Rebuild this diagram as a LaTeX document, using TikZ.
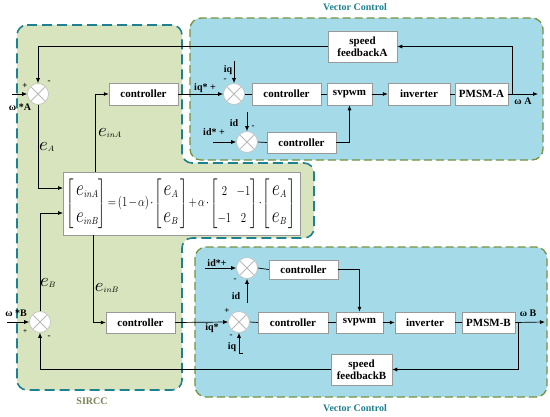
\documentclass[tikz,border=0pt]{standalone}
\usepackage{fontspec}
\setmainfont{Liberation Serif}
\usepackage{amsmath}
\usetikzlibrary{arrows.meta,calc}
\definecolor{gfill}{RGB}{215,228,189}
\definecolor{bfill}{RGB}{165,219,233}
\definecolor{tealdash}{RGB}{30,128,145}
\definecolor{olivedash}{RGB}{118,146,60}
\definecolor{sirccol}{RGB}{120,130,85}
\newcommand{\bige}[1]{\scalebox{1.7}{$e$}_{#1}}
\newcommand{\eqe}[1]{\scalebox{1.6}{$e$}_{#1}}
\begin{document}
\begin{tikzpicture}[x=1pt,y=-1pt,line width=0.7pt,
  >={Latex[length=5pt,width=4pt]},
  blk/.style={draw=gray!80,fill=white,line width=0.5pt,font=\bfseries\fontsize{11}{12}\selectfont,minimum height=22pt,inner sep=1pt,align=center},
  sumj/.style={circle,draw=gray!50,fill=white,line width=0.6pt,minimum size=21pt,inner sep=0pt,
    path picture={\draw[gray!55,line width=0.8pt] (path picture bounding box.north west)--(path picture bounding box.south east)
      (path picture bounding box.north east)--(path picture bounding box.south west);}},
  lbl/.style={font=\bfseries\fontsize{10}{11}\selectfont,inner sep=0pt},
  pmk/.style={font=\bfseries\fontsize{9}{10}\selectfont,inner sep=0pt},
  elbl/.style={font=\fontsize{11}{13}\selectfont,inner sep=0pt},
  vcreg/.style={fill=bfill,draw=olivedash,dash pattern=on 8pt off 4pt,line width=1.3pt,rounded corners=11pt},
  vctitle/.style={font=\bfseries\fontsize{10}{11}\selectfont,text=tealdash,inner sep=0pt}]
\useasboundingbox (0,0) rectangle (550,416);
% regions
\fill[gfill,rounded corners=10pt] (17,25) -- (182,25) -- (182,163) -- (314,163) -- (314,238) -- (182,238) -- (182,390) -- (17,390) -- cycle;
\draw[tealdash,dash pattern=on 10pt off 5pt,line width=1.6pt,rounded corners=10pt] (17,25) -- (182,25) -- (182,163) -- (314,163) -- (314,238) -- (182,238) -- (182,390) -- (17,390) -- cycle;
\draw[vcreg] (190,18) rectangle (543,160);
\draw[vcreg] (195,247) rectangle (547,397);
\node[vctitle] (vtA) at (355,7) {Vector Control};
\node[vctitle] (vtB) at (355,408) {Vector Control};
\node[font=\bfseries\fontsize{10}{11}\selectfont,text=sirccol,inner sep=0pt] (sirc) at (92,401) {SIRCC};

% ---------- A side nodes
\node[sumj] (sumA) at (38,94) {};
\node[blk,minimum width=69pt] (ctrlSA) at (143.5,94) {controller};
\node[sumj] (sumAq) at (234,94) {};
\node[blk,minimum width=69pt] (ctrlA) at (286.5,94) {controller};
\node[blk,minimum width=45pt] (svA) at (349.5,94) {svpwm};
\node[blk,minimum width=62pt] (invA) at (419,94) {inverter};
\node[blk,minimum width=53pt] (pmA) at (481.5,94) {PMSM-A};
\node[blk,minimum width=69pt,minimum height=31pt] (fbA) at (362.5,46.5) {speed\\feedbackA};
\node[sumj] (sumAd) at (247,142) {};
\node[blk,minimum width=69pt,minimum height=21pt] (ctrlA2) at (301.5,142.5) {controller};

% ---------- equation
\node[draw=gray!80,fill=white,line width=0.5pt,minimum width=237pt,minimum height=63pt,inner sep=0pt,font=\fontsize{13}{16}\selectfont] (eq) at (181.5,203.5)
 {\renewcommand{\arraystretch}{1.45}\setlength{\arraycolsep}{2pt}\resizebox*{229pt}{53pt}{$\medmuskip=2mu\thickmuskip=3mu\begin{bmatrix}\,\eqe{inA}\\ \,\eqe{inB}\end{bmatrix}=(1-\alpha)\cdot\begin{bmatrix}\,\eqe{A}\,\\ \,\eqe{B}\,\end{bmatrix}+\alpha\cdot\begin{bmatrix}2 & \;-1\\ -1 & \;2\end{bmatrix}\cdot\begin{bmatrix}\,\eqe{A}\,\\ \,\eqe{B}\,\end{bmatrix}$}};

% ---------- B side nodes
\node[sumj] (sumB) at (40,322) {};
\node[blk,minimum width=69pt,minimum height=21pt] (ctrlSB) at (140.5,322.5) {controller};
\node[sumj] (sumBq) at (239,322) {};
\node[blk,minimum width=70pt,minimum height=21pt] (ctrlB) at (293,322.5) {controller};
\node[blk,minimum width=47pt,minimum height=21pt] (svB) at (359.5,322.5) {svpwm};
\node[blk,minimum width=60pt,minimum height=21pt] (invB) at (425,322.5) {inverter};
\node[blk,minimum width=53pt,minimum height=21pt] (pmB) at (488.5,322.5) {PMSM-B};
\node[blk,minimum width=61pt,minimum height=31pt] (fbB) at (361.5,369.5) {speed\\feedbackB};
\node[sumj] (sumBd) at (247,268) {};
\node[blk,minimum width=69pt,minimum height=19pt] (ctrlB2) at (303.5,269.5) {controller};

% ---------- coordinates
\coordinate (inA) at (12,94);
\coordinate (eAend) at (63,188);
\coordinate (einA) at (95,172);
\coordinate (outA) at (538,94);
\coordinate (tapA) at (512,94);
\coordinate (iqA) at (234,61);
\coordinate (idA) at (247,112);
\coordinate (idsA) at (213,142);

\coordinate (inB) at (7,322);
\coordinate (eBend) at (63,213);
\coordinate (einB) at (93,235);
\coordinate (outB) at (545,322);
\coordinate (tapB) at (518,322);
\coordinate (idsB) at (205,268);
\coordinate (idB) at (247,303);
\coordinate (iqB) at (239,353);
\coordinate (iqBt) at (243,353);

% ---------- A connectors
\draw[->] (inA) -- (sumA.west);
\draw[->] (sumA.south) |- (eAend);
\draw[->] (einA) |- (ctrlSA.west);
\draw[->] (ctrlSA.east) -- (sumAq.west);
\draw (sumAq.east) -- (ctrlA.west);
\draw (ctrlA.east) -- (svA.west);
\draw[->] (svA.east) -- (invA.west);
\draw (invA.east) -- (pmA.west);
\draw[->] (pmA.east) -- (outA);
\draw[->] (tapA) |- (fbA.east);
\draw[->] (fbA.west) -| (sumA.north);
\draw[->] (iqA) -- (sumAq.north);
\draw[->] (idA) -- (sumAd.north);
\draw[->] (idsA) -- (sumAd.west);
\draw (sumAd.east) -- (ctrlA2.west);
\draw[->] (ctrlA2.east) -| (svA.south);

% ---------- B connectors
\draw[->] (inB) -- (sumB.west);
\draw[->] (sumB.north) |- (eBend);
\draw[->] (einB) |- (ctrlSB.west);
\draw[->] (ctrlSB.east) -- (sumBq.west);
\draw (sumBq.east) -- (ctrlB.west);
\draw (ctrlB.east) -- (svB.west);
\draw[->] (svB.east) -- (invB.west);
\draw (invB.east) -- (pmB.west);
\draw[->] (pmB.east) -- (outB);
\draw[->] (tapB) |- (fbB.east);
\draw[->] (fbB.west) -| (sumB.south);
\draw[->] (idsB) -- (sumBd.west);
\draw[->] (idB) -- (sumBd.south);
\draw[->] (iqB) -- (sumBq.south);
\draw (iqB) -- (iqBt);
\draw (sumBd.east) -- (ctrlB2.west);
\draw[->] (ctrlB2.east) -| (svB.north);

% ---------- labels A
\node[pmk] (pA1) at (25,86) {+};
\node[pmk] (mA1) at (49,82) {-};
\node[lbl] (wA) at (20,107) {ω *A};
\node[elbl] (leA) at (47,147) {$\bige{A}$};
\node[elbl] (leinA) at (110,133) {$\bige{inA}$};
\node[lbl] (liqA) at (228,70) {iq};
\node[pmk] (mA2) at (225,80) {-};
\node[lbl] (liqsA) at (205,88) {iq* +};
\node[lbl] (lidA) at (234,123) {id};
\node[pmk] (mA3) at (253,127) {-};
\node[lbl] (lidsA) at (214,132) {id* +};
\node[lbl] (wAo) at (523,101) {ω A};

% ---------- labels B
\node[lbl] (wB) at (16,313) {ω *B};
\node[pmk,font=\bfseries\fontsize{7}{8}\selectfont] (pB1) at (25,332) {+};
\node[pmk] (mB1) at (49,337) {-};
\node[elbl] (leB) at (48,283) {$\bige{B}$};
\node[elbl] (leinB) at (107,288) {$\bige{inB}$};
\node[lbl] (lidsB) at (217,263) {id*+};
\node[pmk] (mB2) at (235,280) {-};
\node[lbl] (lidB) at (236,296) {id};
\node[pmk] (pB2) at (227,311) {+};
\node[lbl] (liqsB) at (212,328) {iq*};
\node[pmk] (mB3) at (231,336) {-};
\node[lbl] (liqB) at (232,347) {iq};
\node[lbl] (wBo) at (528,313) {ω B};
\end{tikzpicture}
\end{document}
